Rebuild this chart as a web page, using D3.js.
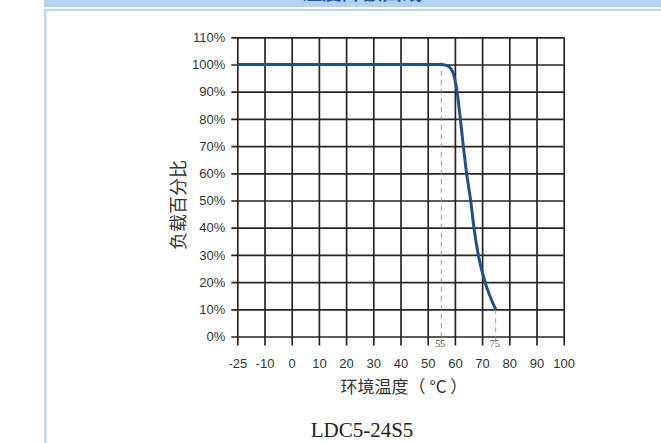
<!DOCTYPE html>
<html>
<head>
<meta charset="utf-8">
<script src="https://cdn.jsdelivr.net/npm/d3@7"></script>
<style>
  html, body { margin: 0; padding: 0; background: #fff; }
  svg { display: block; }
</style>
</head>
<body>
<svg id="chart" width="661" height="443"></svg>
<script>
// Derating curve data: ambient temperature (°C) vs. load percentage
const xTickValues = [-25, -10, 0, 10, 20, 30, 40, 50, 60, 70, 80, 90, 100];
const yTickValues = [0, 10, 20, 30, 40, 50, 60, 70, 80, 90, 100, 110];
const tempC   = [-25, 55, 57, 58.5, 59.5, 60.2, 60.8, 62, 63.1, 64.3, 65.8, 67, 68.6, 71.1, 75];
const loadPct = [100, 100, 99.6, 98.5, 96.5, 93.5, 90, 80, 70, 60, 50, 40, 30, 20, 10];
const markTemps = [55, 75];

const svg = d3.select("#chart");

// Page frame: header band and left border
svg.append("rect").attr("x", 44).attr("y", 0).attr("width", 617).attr("height", 7).attr("fill", "#b1d3f0");
svg.append("text").attr("x", 362).attr("y", 0).attr("text-anchor", "middle")
  .attr("font-family", "Noto Sans CJK SC").attr("font-size", 20).attr("font-weight", "bold")
  .attr("fill", "#1d5aa6").text("温度降额曲线");
svg.append("rect").attr("x", 44).attr("y", 9).attr("width", 617).attr("height", 2).attr("fill", "#bcd6ee");
svg.append("rect").attr("x", 44).attr("y", 9).attr("width", 2.6).attr("height", 434).attr("fill", "#bcd6ee");

// Plot geometry
const x0 = 237.3, step = 27.2;
const yTop = 37.3, yBot = 336.5;
const x = d3.scaleLinear().domain([-25, -10, 0, 100]).range([x0, x0 + step, x0 + 2 * step, x0 + 12 * step]);
const y = d3.scaleLinear().domain([0, 110]).range([yBot, yTop]);
const w = x(100) - x(-25), h = yBot - yTop;

const gridColor = "#2c2421";
const font = "Liberation Sans, Arial, sans-serif";

// Horizontal grid + y labels
const gy = svg.append("g").attr("transform", `translate(${x0 - 6},0)`)
  .call(d3.axisLeft(y).tickValues(yTickValues).tickSize(-(w + 6)).tickPadding(6).tickFormat(d => d + "%"));
gy.select(".domain").remove();
gy.selectAll(".tick line").attr("stroke", gridColor).attr("stroke-width", 1.7);
gy.selectAll(".tick text").attr("font-family", font).attr("font-size", 13).attr("fill", "#333");

// Vertical grid + x labels
const gx = svg.append("g").attr("transform", `translate(0,${yBot + 9})`)
  .call(d3.axisBottom(x).tickValues(xTickValues).tickSize(-(h + 9)).tickPadding(13).tickFormat(d => String(d)));
gx.select(".domain").remove();
gx.selectAll(".tick line").attr("stroke", gridColor).attr("stroke-width", 1.7);
gx.selectAll(".tick text").attr("font-family", font).attr("font-size", 13).attr("fill", "#333");

// Dashed reference lines at 55 and 75 °C
const markTop = [y(101), y(10)];
svg.selectAll(".mark").data(markTemps).enter().append("line")
  .attr("x1", d => x(d)).attr("x2", d => x(d))
  .attr("y1", (d, i) => markTop[i]).attr("y2", yBot + 8)
  .attr("stroke", "#8a8a8a").attr("stroke-width", 0.9).attr("stroke-dasharray", "5,4");
svg.selectAll(".marklbl").data(markTemps).enter().append("text")
  .attr("x", d => x(d) - 1).attr("y", yBot + 10.5).attr("text-anchor", "middle")
  .attr("font-family", "Liberation Serif, Times New Roman, serif").attr("font-size", 10)
  .attr("fill", "#555").text(d => d);

// Derating curve
const pts = tempC.map((t, i) => [t, loadPct[i]]);
const line = d3.line().x(d => x(d[0])).y(d => y(d[1])).curve(d3.curveMonotoneX);
svg.append("path").attr("d", line(pts)).attr("fill", "none")
  .attr("stroke", "#22508f").attr("stroke-width", 3).attr("stroke-linecap", "butt");

// Axis titles
svg.append("text").attr("transform", `translate(185,${(157 + 253) / 2}) rotate(-90)`)
  .attr("text-anchor", "middle").attr("font-family", "Noto Sans CJK SC").attr("font-size", 18)
  .attr("fill", "#333").text("负载百分比");
svg.append("text").attr("x", 404).attr("y", 393).attr("text-anchor", "middle")
  .attr("font-family", "Noto Sans CJK SC").attr("font-size", 17).attr("fill", "#333")
  .attr("xml:space", "preserve").text("环境温度（ °C ）");

// Caption
svg.append("text").attr("x", 362).attr("y", 437).attr("text-anchor", "middle")
  .attr("font-family", "Liberation Serif, Times New Roman, serif").attr("font-size", 21)
  .attr("fill", "#222").text("LDC5-24S5");
</script>
</body>
</html>
